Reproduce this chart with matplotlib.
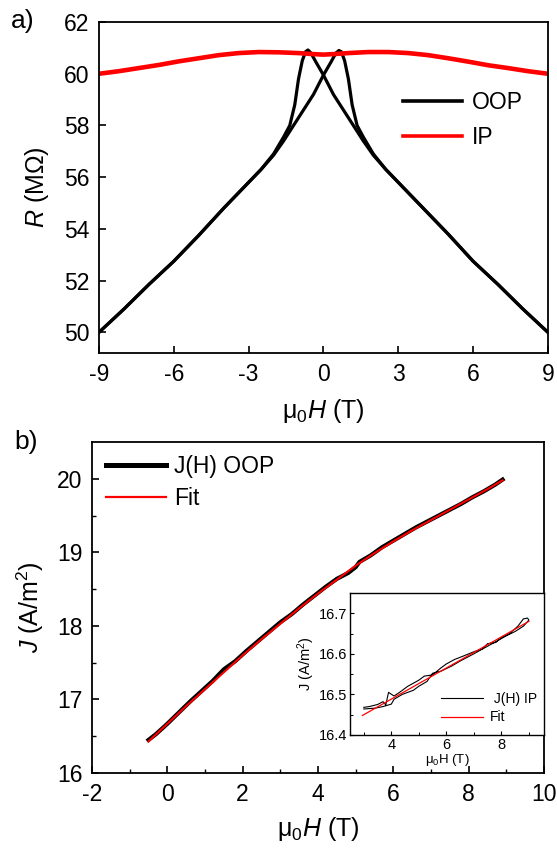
import numpy as np
import matplotlib
matplotlib.use("Agg")
import matplotlib.pyplot as plt

plt.rcParams['font.family'] = ['Liberation Sans', 'DejaVu Sans']
plt.rcParams['mathtext.fontset'] = 'custom'
plt.rcParams['mathtext.rm'] = 'Liberation Sans'
plt.rcParams['mathtext.it'] = 'Liberation Sans:italic'
plt.rcParams['axes.linewidth'] = 1.3
plt.rcParams['axes.unicode_minus'] = False

# ---- a) magnetoresistance, out-of-plane sweep (two branches) and in-plane
h_oop_down = [-9, -8, -7, -6, -5, -4, -3, -2.5, -2.0, -1.6, -1.35, -1.15, -1.0,
              -0.85, -0.72, -0.62, -0.5, -0.3, 0.0, 0.4, 0.8, 1.2, 1.6, 2.0,
              2.5, 3, 4, 5, 6, 7, 8, 9]
r_oop_down = [50.0, 50.9, 51.85, 52.75, 53.75, 54.8, 55.8, 56.3, 56.9, 57.55, 58.0,
              58.8, 59.8, 60.5, 60.85, 60.92, 60.8, 60.45, 59.95, 59.2, 58.6,
              58.0, 57.4, 56.85, 56.3, 55.8, 54.8, 53.8, 52.75, 51.85, 50.9, 50.0]
h_oop_up = [-9, -8, -7, -6, -5, -4, -3, -2.5, -2.0, -1.6, -1.2, -0.8, -0.4, 0.0,
            0.3, 0.5, 0.62, 0.72, 0.85, 1.0, 1.15, 1.35, 1.6, 2.0, 2.5, 3, 4,
            5, 6, 7, 8, 9]
r_oop_up = [50.0, 50.9, 51.85, 52.75, 53.75, 54.8, 55.8, 56.3, 56.85, 57.4, 58.0,
            58.6, 59.2, 59.95, 60.45, 60.8, 60.9, 60.85, 60.5, 59.8, 58.8, 58.0,
            57.55, 56.9, 56.3, 55.8, 54.8, 53.8, 52.75, 51.85, 50.9, 50.0]
h_ip = [-9, -8.2, -7.4, -6.6, -5.8, -5.0, -4.2, -3.4, -2.6, -1.8, -1.0, -0.4,
        0.0, 0.4, 1.0, 1.8, 2.6, 3.4, 4.2, 5.0, 5.8, 6.6, 7.4, 8.2, 9]
r_ip = [60.0, 60.1, 60.22, 60.34, 60.48, 60.6, 60.72, 60.8, 60.84, 60.83, 60.8,
        60.76, 60.74, 60.76, 60.8, 60.84, 60.84, 60.8, 60.72, 60.6, 60.47,
        60.33, 60.22, 60.1, 60.0]

# ---- b) current density vs field, out-of-plane, with fit
h_j = [-0.5, -0.3, 0.0, 0.3, 0.6, 0.9, 1.2, 1.5, 1.8, 2.1, 2.4, 2.7, 3.0, 3.3,
       3.6, 3.9, 4.2, 4.5, 4.8, 5.0, 5.1, 5.4, 5.7, 6.0, 6.3, 6.6, 6.9, 7.2,
       7.5, 7.8, 8.1, 8.4, 8.7, 8.9]
j_oop = [16.45, 16.53, 16.67, 16.82, 16.97, 17.11, 17.25, 17.41, 17.52, 17.66,
         17.79, 17.92, 18.05, 18.16, 18.29, 18.41, 18.53, 18.64, 18.72, 18.80,
         18.87, 18.96, 19.07, 19.16, 19.25, 19.34, 19.42, 19.50, 19.58, 19.66,
         19.75, 19.83, 19.92, 19.99]
h_fit = [-0.5, 0, 0.5, 1, 1.5, 2, 2.5, 3, 3.5, 4, 4.5, 5, 5.5, 6, 6.5, 7, 7.5,
         8, 8.5, 8.9]
j_fit = [16.43, 16.67, 16.91, 17.14, 17.37, 17.6, 17.82, 18.03, 18.24, 18.44,
         18.63, 18.82, 18.99, 19.15, 19.3, 19.44, 19.58, 19.72, 19.86, 19.98]

# inset: in-plane, one loop (forward then back)
h_ip_j = [3.0, 3.2, 3.5, 3.7, 3.8, 3.9, 4.1, 4.3, 4.6, 5.0, 5.2, 5.5, 5.8, 6.0,
          6.3, 6.6, 7.0, 7.3, 7.5, 7.8, 8.0, 8.3, 8.6, 8.8, 8.95, 9.0,
          8.8, 8.5, 8.2, 7.8, 7.4, 7.0, 6.5, 6.2, 5.8, 5.5, 5.3, 5.0, 4.8,
          4.4, 4.1, 4.0, 3.7, 3.4, 3.0]
j_ip = [16.468, 16.470, 16.475, 16.482, 16.474, 16.505, 16.496, 16.505, 16.520,
        16.535, 16.545, 16.548, 16.565, 16.575, 16.586, 16.594, 16.605, 16.612,
        16.625, 16.628, 16.640, 16.650, 16.668, 16.686, 16.688, 16.683,
        16.668, 16.655, 16.645, 16.630, 16.615, 16.600, 16.582, 16.570, 16.557,
        16.552, 16.532, 16.520, 16.510, 16.500, 16.488, 16.476, 16.470, 16.466,
        16.464]
h_ip_fit = [2.95, 9.0]
j_ip_fit = [16.448, 16.680]

fig = plt.figure(figsize=(5.57, 8.48), dpi=100)

# --- panel a
ax1 = fig.add_axes([0.1777, 0.5837, 0.806, 0.3903])
ax1.plot(h_oop_down, r_oop_down, color='black', lw=2.3, label='OOP')
ax1.plot(h_oop_up, r_oop_up, color='black', lw=2.3)
ax1.plot(h_ip, r_ip, color='#ff0000', lw=3.3, label='IP')
ax1.set_xlim(-9, 9)
ax1.set_ylim(49.2, 62.0)
ax1.set_xticks([-9, -6, -3, 0, 3, 6, 9])
ax1.set_yticks([50, 52, 54, 56, 58, 60, 62])
ax1.tick_params(direction='in', length=5, width=1.2, labelsize=16.5, pad=7)
ax1.set_xlabel(r'μ$_0$$H$ (T)', fontsize=18, labelpad=8)
ax1.set_ylabel(r'$R$ (MΩ)', fontsize=18, labelpad=9)
leg1 = ax1.legend(loc='center left', bbox_to_anchor=(0.677, 0.704), frameon=False,
                  fontsize=16.5, handlelength=2.6, handletextpad=0.4,
                  labelspacing=0.5, borderpad=0, borderaxespad=0)
for ln in leg1.get_lines():
    ln.set_linewidth(2.6)

# --- panel b
ax2 = fig.add_axes([0.1652, 0.0884, 0.8115, 0.3903])
ax2.plot(h_j, j_oop, color='black', lw=3.0, label='J(H) OOP')
ax2.plot(h_fit, j_fit, color='#ff0000', lw=1.5, label='Fit')
ax2.set_xlim(-2, 10)
ax2.set_ylim(16, 20.5)
ax2.set_xticks([-2, 0, 2, 4, 6, 8, 10])
ax2.set_xticks(np.arange(-1, 10, 2), minor=True)
ax2.set_yticks([16, 17, 18, 19, 20])
ax2.set_yticks([16.5, 17.5, 18.5, 19.5], minor=True)
ax2.tick_params(which='major', direction='in', length=5, width=1.2, labelsize=16.5, pad=7)
ax2.tick_params(which='minor', direction='in', length=3, width=1.0)
ax2.set_xlabel(r'μ$_0$$H$ (T)', fontsize=18, labelpad=7)
ax2.set_ylabel(r'$J$ (A/m$^2$)', fontsize=18, labelpad=8)
leg2 = ax2.legend(loc='center left', bbox_to_anchor=(0.031, 0.878), frameon=False,
                  fontsize=16.5, handlelength=2.6, handletextpad=0.35,
                  labelspacing=0.4, borderpad=0, borderaxespad=0)
leg2.get_lines()[0].set_linewidth(3.6)
leg2.get_lines()[1].set_linewidth(1.6)

# inset
axi = fig.add_axes([0.6284, 0.1333, 0.3483, 0.1675])
axi.plot(h_ip_j, j_ip, color='black', lw=0.8, label=' J(H) IP')
axi.plot(h_ip_fit, j_ip_fit, color='#ff0000', lw=0.9, label='Fit')
axi.set_xlim(2.5, 9.55)
axi.set_ylim(16.4, 16.75)
axi.set_xticks([4, 6, 8])
axi.set_xticks([3, 5, 7, 9], minor=True)
axi.set_yticks([16.4, 16.5, 16.6, 16.7])
axi.set_yticks([16.45, 16.55, 16.65], minor=True)
axi.tick_params(which='major', direction='in', length=3, width=0.8, labelsize=10.5, pad=2)
axi.tick_params(which='minor', direction='in', length=2, width=0.7)
for s in axi.spines.values():
    s.set_linewidth(1.0)
axi.set_xlabel(r'μ$_0$H (T)', fontsize=9.5, labelpad=0)
axi.set_ylabel(r'J (A/m$^2$)', fontsize=10.5, labelpad=1)
axi.legend(loc='center left', bbox_to_anchor=(0.469, 0.187), frameon=False,
           fontsize=10, handlelength=3.0, handletextpad=0.5,
           labelspacing=0.3, borderpad=0, borderaxespad=0)

fig.text(0.02, 0.975, 'a)', fontsize=19, va='center', ha='left')
fig.text(0.025, 0.479, 'b)', fontsize=19, va='center', ha='left')

fig.savefig('out.png', dpi=100)
